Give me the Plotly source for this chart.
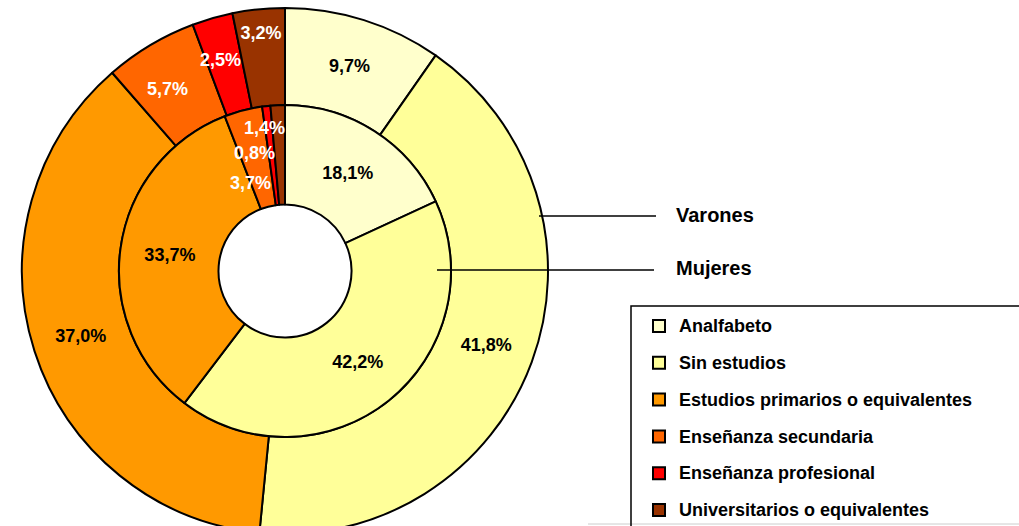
import plotly.graph_objects as go

# ---- data ----
categories = ["Analfabeto", "Sin estudios", "Estudios primarios o equivalentes",
              "Enseñanza secundaria", "Enseñanza profesional", "Universitarios o equivalentes"]
varones = [9.7, 41.8, 37.0, 5.7, 2.5, 3.2]
mujeres = [18.1, 42.2, 33.7, 3.7, 0.8, 1.4]
ring_names = ["Varones", "Mujeres"]

# ---- styles ----
colors = ["#FFFFCC", "#FFFF99", "#FF9900", "#FF6600", "#FF0000", "#993300"]
text_colors = ["black", "black", "black", "white", "white", "white"]
FONT = "Liberation Sans, Arial, sans-serif"

W, H = 1019, 560
OFF = 0                     # page offset of the figure (body margin removed below)
cx, cy = 285, 271           # pie centre in page px
R_OUT, R_MID, R_HOLE = 263, 166, 66.5


def fmt(v):
    return f"{v:.1f}".replace(".", ",") + "%"


def px(x, y):
    """page pixel -> paper coordinates"""
    return (x - OFF) / W, 1 - (y - OFF) / H


def dom(r):
    x0, y1 = px(cx - r, cy - r)
    x1, y0 = px(cx + r, cy + r)
    return dict(x=[x0, x1], y=[max(0, y0), min(1, y1)])


legend_labels = [f"<span style='font-size:18px;baseline-shift:4px'>{c}</span>" for c in categories]

# slices whose labels are placed by hand, as in the original
outer_manual = {3: (167, 89), 4: (220, 60)}
inner_manual = {3: (250, 183), 4: (254, 153), 5: (264, 128)}

fig = go.Figure()
for vals, hole, r, name, manual, show in [
        (varones, R_MID / R_OUT, R_OUT, ring_names[0], outer_manual, True),
        (mujeres, R_HOLE / R_MID, R_MID, ring_names[1], inner_manual, False)]:
    fig.add_trace(go.Pie(
        name=name, labels=legend_labels, values=vals, sort=False,
        direction="clockwise", rotation=0, hole=hole, domain=dom(r),
        marker=dict(colors=colors, line=dict(color="black", width=2)),
        text=[fmt(v) for v in vals], textinfo="text",
        textposition=["none" if i in manual else "inside" for i in range(len(vals))],
        insidetextorientation="horizontal",
        textfont=dict(family=FONT, size=18, weight="bold", color=text_colors),
        hoverinfo="skip", showlegend=show,
    ))

annotations = []
for vals, manual in [(varones, outer_manual), (mujeres, inner_manual)]:
    for i, (x, y) in manual.items():
        ax, ay = px(x, y)
        annotations.append(dict(x=ax, y=ay, xref="paper", yref="paper", text=fmt(vals[i]),
                                showarrow=False, xanchor="center", yanchor="middle",
                                font=dict(family=FONT, size=18, weight="bold", color=text_colors[i])))

# ring captions with leader lines
shapes = []
captions = [((539, 216), (656, 216), (674, 215)), ((437, 270), (654, 270), (674, 268))]
for name, (p0, p1, pt) in zip(ring_names, captions):
    x0, y0 = px(*p0)
    x1, y1 = px(*p1)
    shapes.append(dict(type="line", xref="paper", yref="paper", x0=x0, y0=y0, x1=x1, y1=y1,
                       line=dict(color="black", width=1.5)))
    tx, ty = px(*pt)
    annotations.append(dict(x=tx, y=ty, xref="paper", yref="paper", text=name, showarrow=False,
                            xanchor="left", yanchor="middle",
                            font=dict(family=FONT, size=20, weight="bold", color="black")))

# faint bottom rule and legend frame (running past the page edges like the original)
gx0, gy = px(588, 524)
shapes.append(dict(type="line", xref="paper", yref="paper", x0=gx0, y0=gy, x1=1.2, y1=gy,
                   line=dict(color="#cccccc", width=1)))
lx0, ly1 = px(631, 306)
lx1, ly0 = px(1100, 560)
shapes.append(dict(type="rect", xref="paper", yref="paper", x0=lx0, y0=ly0, x1=lx1, y1=ly1,
                   line=dict(color="black", width=1.5), fillcolor="rgba(0,0,0,0)"))

lgx, lgy = px(639, 302.6)
fig.update_layout(
    width=W, height=H,
    margin=dict(l=0, r=0, t=0, b=0, pad=0, autoexpand=False),
    paper_bgcolor="white", plot_bgcolor="white",
    uniformtext=dict(minsize=18, mode="show"),
    showlegend=True,
    legend=dict(x=lgx, y=lgy, xanchor="left", yanchor="top",
                font=dict(family=FONT, size=26, weight="bold", color="black"),
                bgcolor="rgba(0,0,0,0)", borderwidth=0, traceorder="normal"),
    shapes=shapes, annotations=annotations,
)

fig.write_html(
    "out.html",
    config={"displayModeBar": False},
    post_script="document.documentElement.style.overflow='hidden';"
                "document.body.style.margin='0';document.body.style.overflow='hidden';",
)
